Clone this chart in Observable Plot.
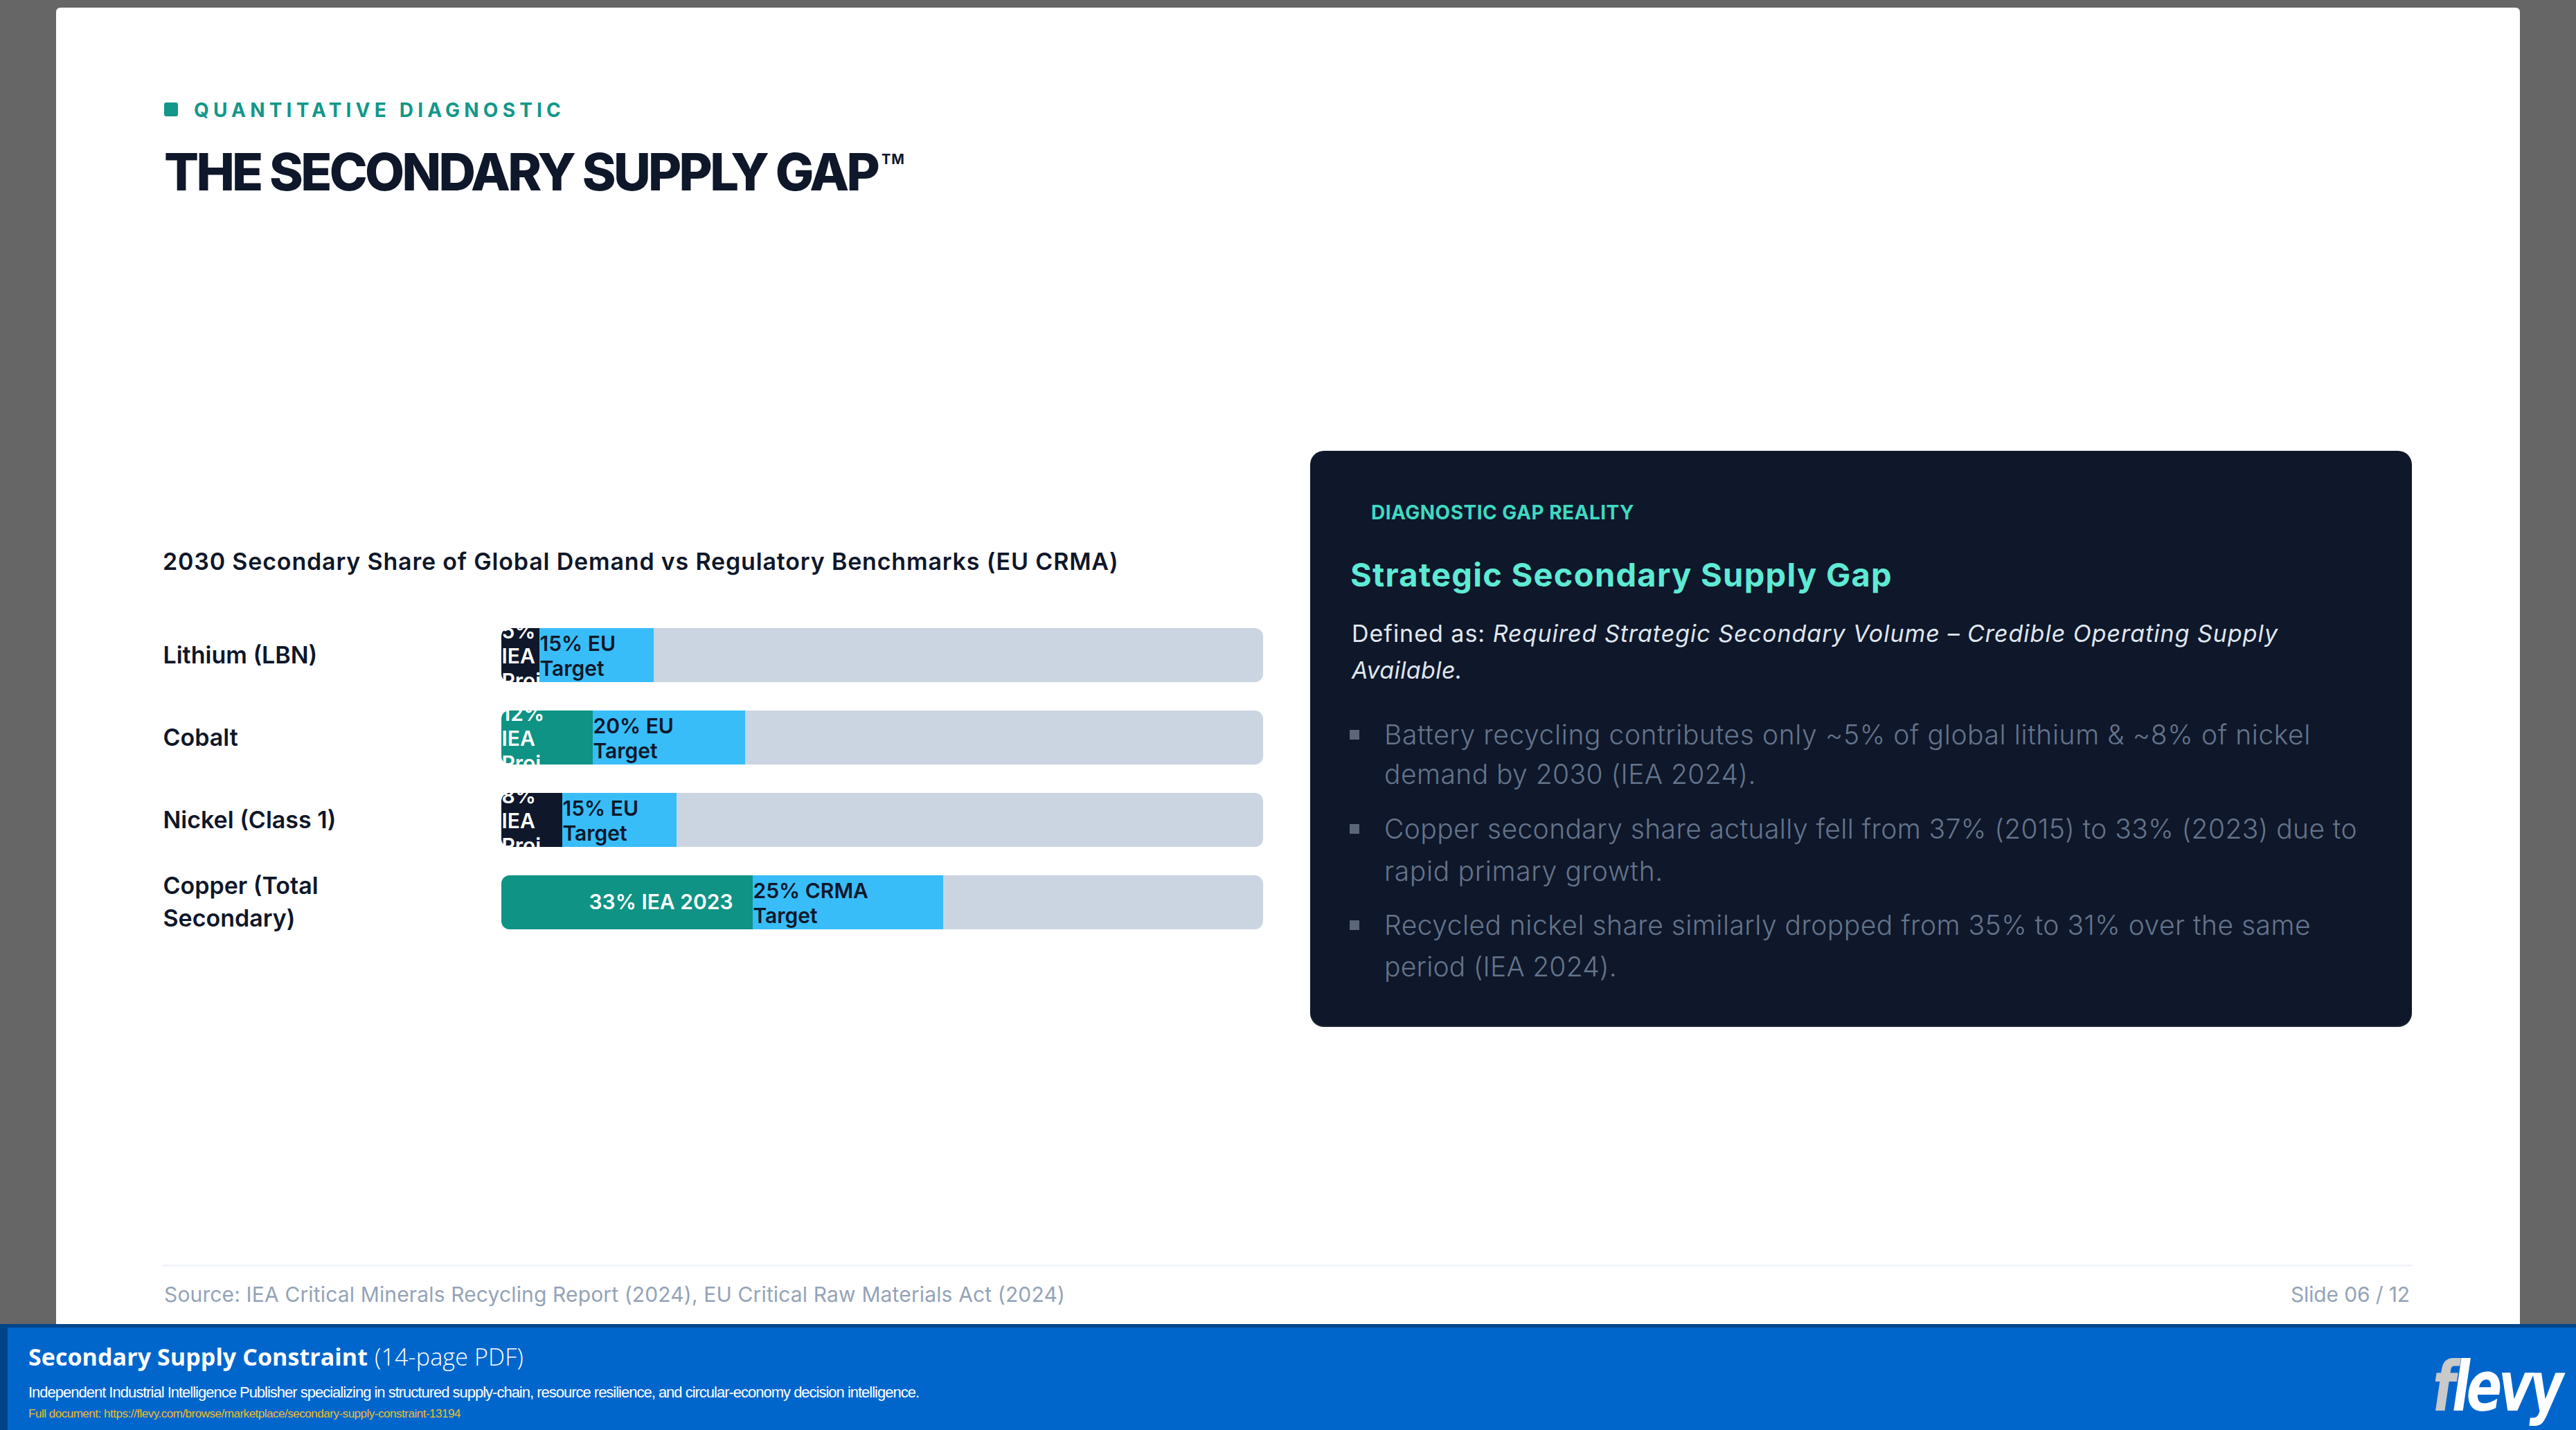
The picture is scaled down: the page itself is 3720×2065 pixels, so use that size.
<!DOCTYPE html>
<html lang="en">
<head>
<meta charset="utf-8">
<title>The Secondary Supply Gap</title>
<script src="https://cdn.jsdelivr.net/npm/d3@7"></script>
<script src="https://cdn.jsdelivr.net/npm/@observablehq/plot@0.6"></script>
<style>
  html, body { margin: 0; padding: 0; }
  body { width: 3720px; height: 2065px; position: relative; overflow: hidden; background: #666666; font-family: Inter, "Noto Sans", sans-serif; }
  .box { position: absolute; }
  .t { position: absolute; left: 0; top: 0; white-space: nowrap; line-height: 1; display: inline-block; }
</style>
</head>
<body>
<div class="box" style="left:81px;top:11px;width:3558px;height:1901px;background:#ffffff;border-radius:6px 6px 0 0"></div>

<div class="box" style="left:237px;top:148px;width:20px;height:20px;border-radius:3px;background:#12978a"></div>
<div class="t" data-x="280" data-b="169" data-w="536" style="font-size:28px;font-weight:700;color:#12978a">QUANTITATIVE DIAGNOSTIC</div>
<div class="t" data-x="237" data-b="275" data-w="1030" style="font-size:74px;font-weight:800;color:#0f172a">THE SECONDARY SUPPLY GAP</div>
<div class="t" data-x="1273" data-b="237" data-w="34" style="font-size:20px;font-weight:700;color:#0f172a">TM</div>

<div class="t" data-x="235" data-b="823" data-w="1380" style="font-size:34px;font-weight:600;color:#0f172a">2030 Secondary Share of Global Demand vs Regulatory Benchmarks (EU CRMA)</div>
<div id="chart" class="box" style="left:235px;top:880px"></div>

<div class="box" style="left:1892px;top:651px;width:1591px;height:832px;background:#0f172a;border-radius:20px;border-bottom:2px solid #1e293b;box-sizing:border-box"></div>
<div class="t" data-x="1980" data-b="750" data-w="380" style="font-size:28px;font-weight:700;color:#3fd9c2">DIAGNOSTIC GAP REALITY</div>
<div class="t" data-x="1950" data-b="847" data-w="783" style="font-size:47px;font-weight:700;color:#5eead4">Strategic Secondary Supply Gap</div>
<div class="t" data-x="1952" data-b="927" data-w="1338" style="font-size:34px;font-weight:400;color:#e2e8f0">Defined as: <span style="font-style:italic;color:#dfe6ee">Required Strategic Secondary Volume – Credible Operating Supply</span></div>
<div class="t" data-x="1952" data-b="980" data-w="160" style="font-size:34px;font-weight:400;font-style:italic;color:#dfe6ee">Available.</div>

<div class="box" style="left:1949px;top:1054px;width:14px;height:14px;background:#5b6679"></div>
<div class="t" data-x="1999" data-b="1075" data-w="1338" style="font-size:39px;font-weight:300;color:#64748b">Battery recycling contributes only ~5% of global lithium &amp; ~8% of nickel</div>
<div class="t" data-x="1999" data-b="1132" data-w="537" style="font-size:39px;font-weight:300;color:#64748b">demand by 2030 (IEA 2024).</div>
<div class="box" style="left:1949px;top:1190px;width:14px;height:14px;background:#5b6679"></div>
<div class="t" data-x="1999" data-b="1211" data-w="1405" style="font-size:39px;font-weight:300;color:#64748b">Copper secondary share actually fell from 37% (2015) to 33% (2023) due to</div>
<div class="t" data-x="1999" data-b="1272" data-w="403" style="font-size:39px;font-weight:300;color:#64748b">rapid primary growth.</div>
<div class="box" style="left:1949px;top:1329px;width:14px;height:14px;background:#5b6679"></div>
<div class="t" data-x="1999" data-b="1350" data-w="1338" style="font-size:39px;font-weight:300;color:#64748b">Recycled nickel share similarly dropped from 35% to 31% over the same</div>
<div class="t" data-x="1999" data-b="1410" data-w="336" style="font-size:39px;font-weight:300;color:#64748b">period (IEA 2024).</div>

<div class="box" style="left:235px;top:1826px;width:3249px;height:3px;background:#f1f5f9"></div>
<div class="t" data-x="237" data-b="1880" data-w="1301" style="font-size:30px;font-weight:400;color:#94a3b8">Source: IEA Critical Minerals Recycling Report (2024), EU Critical Raw Materials Act (2024)</div>
<div class="t" data-x="3480" data-b="1880" data-w="172" data-a="end" style="font-size:30px;font-weight:400;color:#94a3b8">Slide 06 / 12</div>

<div class="box" style="left:0;top:1912px;width:3720px;height:153px;background:#0066cc;border-top:5px solid #004488;border-left:11px solid #004488;box-sizing:border-box"></div>
<div class="t" data-x="41" data-b="1972" data-w="490" style="font-family:'Open Sans',Inter,sans-serif;font-size:34px;font-weight:700;color:#ffffff">Secondary Supply Constraint</div>
<div class="t" data-x="541" data-b="1972" data-w="215" style="font-family:'Open Sans',Inter,sans-serif;font-size:34px;font-weight:300;color:#ffffff">(14-page PDF)</div>
<div class="t" data-x="41" data-b="2018" data-w="1286" style="font-family:'Liberation Sans',Arial,sans-serif;font-size:22px;font-weight:400;color:#ffffff">Independent Industrial Intelligence Publisher specializing in structured supply-chain, resource resilience, and circular-economy decision intelligence.</div>
<div class="t" data-x="41" data-b="2047" data-w="624" style="font-family:'Liberation Sans',Arial,sans-serif;font-size:17px;font-weight:400;color:#f0bd2e">Full document: https://flevy.com/browse/marketplace/secondary-supply-constraint-13194</div>
<div class="t" data-x="3513" data-b="2037" data-w="184" style="font-family:'Liberation Sans Narrow','DejaVu Sans Condensed','Liberation Sans',sans-serif;font-size:100px;font-weight:700;font-style:italic;color:#ffffff;letter-spacing:-2px"><span style="color:#c9c9c9">f</span>levy</div>

<script>
// ---------- chart data ----------
const categories = ["Lithium (LBN)", "Cobalt", "Nickel (Class 1)", "Copper (Total Secondary)"];
const secondaryShare = [5, 12, 8, 33];
const secondaryLabels = ["5% IEA Proj.", "12% IEA Proj.", "8% IEA Proj.", "33% IEA 2023"];
const benchmarkTarget = [15, 20, 15, 25];
const benchmarkLabels = ["15% EU Target", "20% EU Target", "15% EU Target", "25% CRMA Target"];
const axisMax = 100;

// ---------- styles (kept apart from the data) ----------
const shareFill = {
  "Lithium (LBN)": "#0f172a",
  "Cobalt": "#0e9384",
  "Nickel (Class 1)": "#0f172a",
  "Copper (Total Secondary)": "#0e9384"
};
const trackFill = "#cbd5e1";
const targetFill = "#38bdf8";

const rows = categories.map((category, i) => ({
  category,
  share: secondaryShare[i],
  shareLabel: secondaryLabels[i],
  target: benchmarkTarget[i],
  targetLabel: benchmarkLabels[i]
}));

let clipCounter = 0;
function clipTo(from, to) {
  return function (index, scales, values, dimensions, context, next) {
    const g = next(index, scales, values, dimensions, context);
    if (!g) return g;
    const ns = "http://www.w3.org/2000/svg";
    const doc = (context && context.document) || document;
    const parse = (s) => {
      const m = /translate\(\s*([-\d.e]+)[\s,]+([-\d.e]+)\s*\)/.exec(s || "");
      return m ? [+m[1], +m[2]] : [0, 0];
    };
    const [gx, gy] = parse(g.getAttribute("transform"));
    const bw = typeof scales.y.bandwidth === "function" ? scales.y.bandwidth() : 78;
    const texts = Array.from(g.childNodes).filter((n) => n.nodeName && n.nodeName.toLowerCase() === "text");
    Array.from(index).forEach((i, k) => {
      const el = texts[k];
      if (!el) return;
      const d = rows[i];
      const [tx, ty] = parse(el.getAttribute("transform"));
      const xa = scales.x(from(d)), xb = scales.x(to(d));
      const y0 = scales.y(d.category);
      const id = "seg-clip-" + (clipCounter++);
      const cp = doc.createElementNS(ns, "clipPath");
      cp.setAttribute("id", id);
      const r = doc.createElementNS(ns, "rect");
      r.setAttribute("x", Math.min(xa, xb) - gx - tx);
      r.setAttribute("y", y0 - gy - ty);
      r.setAttribute("width", Math.abs(xb - xa));
      r.setAttribute("height", bw);
      cp.appendChild(r);
      g.appendChild(cp);
      el.setAttribute("clip-path", `url(#${id})`);
    });
    return g;
  };
}

const ML = 489;
const chart = Plot.plot({
  width: 1590,
  height: 483,
  marginLeft: ML,
  marginRight: 1,
  marginTop: 26,
  marginBottom: 20,
  x: {domain: [0, axisMax], axis: null},
  y: {domain: categories, axis: null, paddingInner: 0.348, paddingOuter: 0, align: 0.5},
  style: {fontFamily: "Inter, 'Noto Sans', sans-serif", background: "transparent", overflow: "visible"},
  marks: [
    Plot.barX(rows, {y: "category", x1: () => 0, x2: () => axisMax, fill: trackFill, rx: 12, inset: 0}),
    Plot.barX(rows, {y: "category", x1: () => 0, x2: (d) => d.share + d.target, fill: (d) => shareFill[d.category], rx: 12, inset: 0}),
    Plot.barX(rows, {y: "category", x1: "share", x2: (d) => d.share + d.target, fill: targetFill, inset: 0}),
    Plot.text(rows, {
      y: "category", frameAnchor: "left", dx: -ML, dy: -4, text: "category", textAnchor: "start",
      lineWidth: 8, lineHeight: 1.38, fontSize: 34, fontWeight: 600, fill: "#0f172a"
    }),
    Plot.text(rows, {
      filter: (d) => d.share < 20, y: "category", x: () => 0, text: "shareLabel", textAnchor: "start",
      lineWidth: 3, lineHeight: 1.2, fontSize: 30, fontWeight: 600, fill: "#ffffff",
      render: clipTo(() => 0, (d) => d.share)
    }),
    Plot.text(rows, {
      filter: (d) => d.share >= 20, y: "category", x: "share", dx: -29, text: "shareLabel", textAnchor: "end",
      fontSize: 30, fontWeight: 600, fill: "#ffffff"
    }),
    Plot.text(rows, {
      y: "category", x: "share", text: "targetLabel", textAnchor: "start",
      lineWidth: 5.5, lineHeight: 1.2, fontSize: 30, fontWeight: 600, fill: "#0f172a",
      render: clipTo((d) => d.share, (d) => d.share + d.target)
    })
  ]
});
document.getElementById("chart").appendChild(chart);

// ---------- page text placement ----------
function layoutText() {
  document.querySelectorAll(".t").forEach((el) => {
    el.style.letterSpacing = el.dataset.ls0 !== undefined ? el.dataset.ls0 : (el.dataset.ls0 = el.style.letterSpacing || "");
    el.style.transform = "";
    el.style.left = "0px";
    el.style.top = "0px";
    const x = +el.dataset.x, b = +el.dataset.b;
    const w = el.dataset.w ? +el.dataset.w : null;
    const anchor = el.dataset.a || "start";
    const fs = parseFloat(getComputedStyle(el).fontSize);
    if (w) {
      const n = Math.max(1, el.textContent.length);
      const w0 = el.getBoundingClientRect().width;
      const base = parseFloat(getComputedStyle(el).letterSpacing) || 0;
      let ls = base + (w - w0) / n;
      ls = Math.max(-0.06 * fs, Math.min(0.35 * fs, ls));
      el.style.letterSpacing = ls + "px";
      const w1 = el.getBoundingClientRect().width;
      if (Math.abs(w1 - w) > 1.5) {
        el.style.transformOrigin = anchor === "end" ? "right center" : "left center";
        el.style.transform = `scaleX(${w / w1})`;
      }
    }
    const probe = document.createElement("span");
    probe.style.cssText = "display:inline-block;width:0;height:0;vertical-align:baseline";
    el.appendChild(probe);
    const rTop = el.getBoundingClientRect().top;
    const baseOff = probe.getBoundingClientRect().top - rTop;
    el.removeChild(probe);
    const layoutW = el.offsetWidth;
    el.style.left = (anchor === "end" ? x - layoutW : x) + "px";
    el.style.top = (b - baseOff) + "px";
  });
}
layoutText();
if (document.fonts && document.fonts.ready) document.fonts.ready.then(layoutText);
</script>
</body>
</html>
